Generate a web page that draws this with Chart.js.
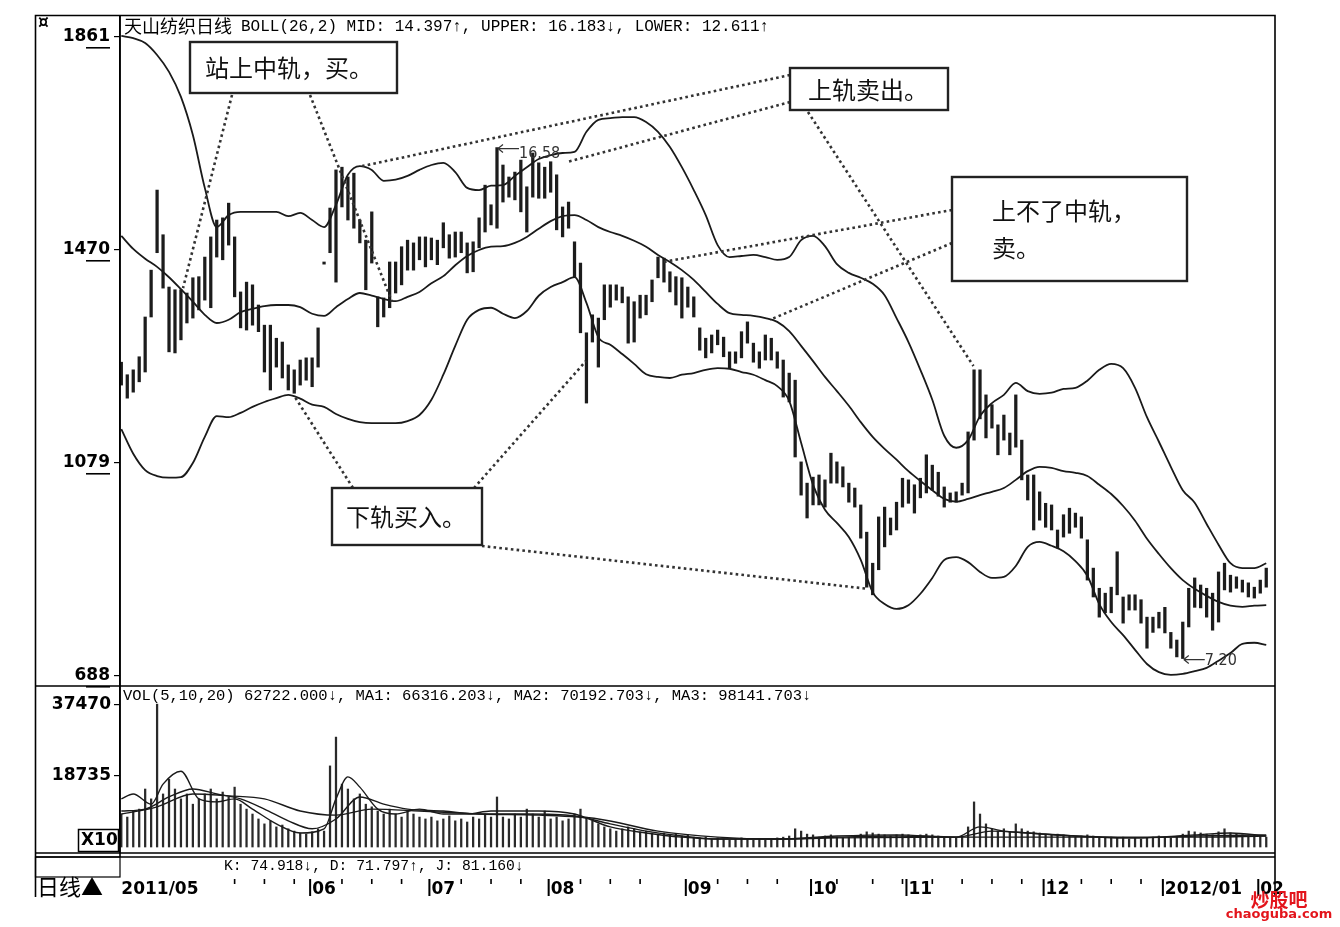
<!DOCTYPE html>
<html lang="zh">
<head>
<meta charset="utf-8">
<title>天山纺织日线 BOLL</title>
<script src="https://cdn.jsdelivr.net/npm/chart.js@4.4.1/dist/chart.umd.min.js"></script>
<style>
html,body{margin:0;padding:0;background:#fff;overflow:hidden}
#box{position:relative;width:1340px;height:927px}
canvas{display:block}
</style>
</head>
<body>
<div id="box"><canvas id="c" width="1340" height="927"></canvas></div>
<script>
// ---------------- DATA (price x100, as shown on the axis) ----------------
const candleHigh = [
1264,1241,1250,1274,1347,1433,1580,1498,1402,1397,1397,1391,1419,1421,1457,1494,1525,1529,1556,1494,1393,1411,1406,1369,1332,1332,1308,1301,1259,1250,1268,1272,
1272,1327,1448,1547,1617,1622,1604,1611,1525,1488,1540,1384,1382,1448,1448,1476,1488,1483,1494,1494,1492,1488,1520,1498,1503,1503,1483,1485,1529,1589,1553,1658,
1626,1604,1613,1635,1586,1648,1630,1622,1632,1608,1549,1558,1485,1446,1318,1351,1345,1406,1406,1406,1402,1384,1375,1387,1387,1415,1457,1455,1430,1421,1419,1402,
1384,1327,1308,1314,1323,1310,1283,1283,1320,1338,1299,1283,1314,1308,1283,1268,1244,1231,1081,1042,1053,1057,1048,1097,1081,1072,1042,1033,1002,952,895,980,
998,978,1007,1051,1048,1039,1051,1094,1075,1062,1035,1024,1026,1042,1136,1250,1250,1204,1186,1149,1167,1134,1204,1121,1057,1057,1026,1005,1002,956,984,996,
987,980,938,886,849,840,851,916,833,837,837,828,796,796,805,814,768,754,787,849,868,855,849,840,879,895,873,870,864,859,851,864,886];
const candleLow = [
1222,1198,1209,1228,1246,1347,1465,1400,1283,1281,1305,1336,1345,1360,1378,1364,1457,1452,1479,1384,1327,1323,1332,1320,1246,1213,1255,1235,1213,1207,1222,1231,
1219,1255,1444,1465,1411,1549,1525,1510,1483,1397,1446,1329,1347,1364,1391,1406,1433,1433,1452,1439,1452,1443,1474,1455,1457,1465,1428,1430,1474,1503,1516,1510,
1558,1567,1562,1540,1503,1567,1565,1565,1576,1507,1494,1510,1421,1318,1189,1301,1255,1342,1365,1378,1373,1299,1301,1345,1351,1375,1419,1411,1393,1369,1345,1365,
1347,1286,1272,1281,1296,1274,1253,1262,1272,1299,1264,1253,1268,1268,1253,1200,1191,1090,1020,978,1002,1002,998,1042,1042,1035,1007,998,941,851,837,883,
925,947,956,998,1005,987,1015,1024,1029,1018,998,1007,1007,1020,1024,1121,1160,1125,1143,1094,1121,1094,1108,1048,1011,956,974,961,956,923,943,950,
961,941,864,833,796,804,804,837,785,809,809,785,739,768,776,767,739,723,720,778,814,813,796,772,787,846,842,849,842,833,831,840,851];
const volume = [
8700,7900,9500,10000,15300,12700,37700,14000,17900,15300,12700,14000,11300,
12700,14000,15300,12700,14500,13200,15800,11300,10000,8700,7400,6100,6900,
5300,5800,4800,4200,3700,3400,4000,4800,4200,21400,29000,16600,15300,12700,14000,11300,10600,
9500,8700,10000,8700,7900,9500,8700,7900,7400,7900,6900,7400,8200,6900,7400,6600,7900,7400,
8700,7900,13200,7900,7400,8700,7900,10000,8700,7900,9500,7400,7900,6900,7400,
8700,10000,7900,6900,6100,5300,4800,4200,4800,5300,4800,4000,4200,3700,3400,3700,3200,3400,2900,3200,
2600,2400,2600,2100,2400,2100,1800,2100,2400,2100,1800,2100,1800,2100,2400,2600,2900,4800,
4200,3400,3200,2600,2900,3200,2600,2400,2600,2900,3400,4000,3700,3400,
3200,2900,3200,3400,3200,2900,3200,3400,3200,2900,2600,2600,2400,2600,
5300,11900,8700,6100,4800,4200,4800,4000,6100,
4800,4200,4000,3700,3400,3200,3400,3200,2900,2600,2900,3200,2900,2600,2400,
2600,2400,2600,2100,2400,2100,2400,2600,2900,2600,2400,2600,3400,4200,4000,
3700,3400,3200,4000,4800,3700,3400,3200,2900,3200,2900,2600];

// Bollinger bands, read every second candle
const bandIdx = [0,2,4,6,8,10,12,14,16,18,20,22,24,26,28,30,32,34,36,38,40,42,44,46,48,50,52,54,56,58,60,62,64,66,68,70,72,74,76,78,80,82,84,86,88,90,92,94,96,98,100,102,104,106,108,110,112,114,116,118,120,122,124,126,128,130,132,134,136,138,140,142,144,146,148,150,152,154,156,158,160,162,164,166,168,170,172,174,176,178,180,182,184,186,188,190,192];
const upperBand = [1863,1859,1850,1828,1797,1751,1681,1584,1512,1534,1540,1540,1540,1540,1532,1538,1525,1512,1553,1608,1624,1617,1597,1599,1606,1617,1626,1630,1613,1584,1580,1588,1589,1606,1622,1637,1644,1648,1650,1687,1709,1712,1714,1714,1705,1687,1659,1622,1580,1534,1479,1457,1459,1461,1457,1452,1457,1488,1496,1477,1444,1428,1419,1408,1387,1345,1301,1250,1195,1129,1107,1121,1165,1189,1204,1226,1211,1206,1208,1215,1217,1230,1250,1261,1253,1217,1163,1118,1072,1029,1006,967,929,895,886,886,895];
const midBand = [1496,1472,1454,1439,1420,1398,1375,1351,1336,1342,1356,1362,1367,1369,1369,1365,1353,1349,1365,1380,1391,1386,1380,1376,1384,1393,1409,1422,1442,1459,1470,1476,1477,1483,1494,1509,1523,1532,1534,1525,1512,1503,1496,1487,1476,1461,1448,1433,1415,1393,1371,1354,1351,1349,1345,1338,1321,1294,1266,1237,1211,1184,1154,1127,1105,1085,1064,1046,1029,1013,1008,1013,1020,1026,1033,1048,1064,1072,1070,1064,1061,1055,1039,1022,1000,973,940,912,886,864,848,835,824,817,815,817,818];
const lowerBand = [1141,1096,1066,1055,1052,1053,1079,1127,1165,1163,1171,1182,1191,1198,1204,1197,1186,1182,1169,1160,1154,1152,1152,1152,1156,1167,1195,1241,1294,1342,1360,1364,1353,1345,1358,1386,1402,1411,1420,1373,1310,1296,1279,1261,1242,1237,1235,1241,1244,1250,1253,1252,1246,1241,1231,1220,1193,1116,1039,993,969,943,901,842,820,811,818,839,868,901,906,897,879,868,870,890,925,934,927,917,899,872,820,787,763,736,710,695,690,692,697,703,716,730,747,749,745];

// Volume moving averages
const ma5Idx = [0,2,5,7,10,13,16,19,22,26,30,34,36,38,40,43,46,50,54,58,62,66,70,76,82,88,94,100,110,120,130,140,144,148,152,160,170,180,186,192];
const ma5Vol = [12700,14000,11300,16600,20000,12700,11900,12700,10000,6100,3700,4800,12700,18500,15800,10000,8700,10000,8700,8700,9500,9500,9500,8700,5300,3700,2600,2100,2100,2900,3200,2600,5300,4200,3700,2900,2400,3200,3700,2900];
const ma10Idx = [0,4,8,12,16,20,24,28,32,36,40,44,48,54,60,68,76,82,88,94,100,110,120,130,140,146,152,160,170,180,192];
const ma10Vol = [9500,10000,13200,15300,14000,12700,10000,6900,4800,7400,13200,11300,10000,9500,8700,8700,8200,6100,4200,2900,2100,2100,2600,2900,2600,4200,3700,2900,2400,2900,3200];
const ma20Idx = [0,6,12,18,24,30,36,42,50,60,70,80,90,100,110,120,140,160,180,192];
const ma20Vol = [8700,10600,14000,13500,12700,9500,8400,10000,9500,8700,8400,7400,4200,2600,2100,2400,2600,2600,2600,2900];

// Axis ticks
const priceTicks = [688, 1079, 1470, 1861];
const volTicks = [18735, 37470];
const monthIdx = [0, 32, 52, 72, 95, 116, 132, 155, 175, 191];
const monthLabels = ['2011/05', '06', '07', '08', '09', '10', '11', '12', '2012/01', '02'];
const weekIdx = [19, 24, 29, 37, 42, 47, 57, 62, 67, 77, 82, 87, 100, 105, 110, 120, 126, 131, 136, 141, 146, 151, 156, 161, 166, 171, 187];

// Extremes marked on the chart
const highMark = {i: 63, v: 1658, label: '16.58'};
const lowMark = {i: 178, v: 720, label: '7.20'};

// Callouts: target points in data space [candle index, price]
const callouts = [
  {text: ['站上中轨，买。'], box: [190, 42, 397, 93], tx: 205, ty: [68],
   from: [[232, 95], [310, 95]], to: [[10.35, 1400], [45.4, 1375]]},
  {text: ['上轨卖出。'], box: [790, 68, 948, 110], tx: 808, ty: [90],
   from: [[790, 75], [790, 102], [808, 112]], to: [[40.4, 1624], [74.9, 1632], [142.9, 1257]]},
  {text: ['上不了中轨，', '卖。'], box: [952, 177, 1187, 281], tx: 992, ty: [211, 248],
   from: [[952, 210], [952, 243]], to: [[90.9, 1448], [108.8, 1342]]},
  {text: ['下轨买入。'], box: [332, 488, 482, 545], tx: 346, ty: [517],
   from: [[353, 488], [474, 488], [482, 546]], to: [[29.0, 1202], [77.9, 1266], [125.2, 848]]}
];

// ---------------- CHART ----------------
const CJK = '"Noto Sans CJK SC", sans-serif';
const MONO = '"Liberation Mono", "DejaVu Sans Mono", monospace';

const candleData = candleHigh.map((h, i) => ({x: i, y: [candleLow[i], h]}));
const volData = volume.map((v, i) => ({x: i, y: v}));
const pts = (idx, vals) => idx.map((x, k) => ({x, y: vals[k]}));

const lineDs = (label, data, axis, w) => ({
  type: 'line', label, data, yAxisID: axis, borderColor: '#1a1a1a', borderWidth: w,
  pointRadius: 0, fill: false, cubicInterpolationMode: 'monotone', order: 1
});

const deco = {
  id: 'deco',
  beforeDraw(chart) {
    const c = chart.ctx;
    c.save(); c.fillStyle = '#fff'; c.fillRect(0, 0, chart.width, chart.height); c.restore();
  },
  afterDraw(chart) {
    const c = chart.ctx, xs = chart.scales.x, ys = chart.scales.y;
    const A = chart.chartArea;
    const L = 35.5, R = 1275, T = 15.5, B = 897;
    c.save();
    c.strokeStyle = '#000'; c.lineWidth = 1.6;
    c.beginPath();
    c.moveTo(L, B); c.lineTo(L, T); c.lineTo(R, T); c.lineTo(R, B);
    c.moveTo(L, ys.bottom); c.lineTo(R, ys.bottom);
    c.moveTo(L, A.bottom); c.lineTo(R, A.bottom);
    c.moveTo(L, A.bottom + 4); c.lineTo(R, A.bottom + 4);
    c.moveTo(A.left, T); c.lineTo(A.left, A.bottom + 4);
    c.stroke();
    c.lineWidth = 1.2;
    c.strokeRect(L, A.bottom + 4, A.left - L, 20);

    c.fillStyle = '#000';
    priceTicks.forEach(v => { const y = ys.getPixelForValue(v); c.fillRect(86, y + 10, 24, 1.6); });

    c.textBaseline = 'middle'; c.textAlign = 'left'; c.fillStyle = '#000';
    c.font = '18px ' + CJK; c.fillText('天山纺织日线', 124, 26);
    c.font = '16px ' + MONO; c.fillText('BOLL(26,2) MID: 14.397↑, UPPER: 16.183↓, LOWER: 12.611↑', 241, 27);
    c.font = '15.5px ' + MONO;
    c.fillText('VOL(5,10,20) 62722.000↓, MA1: 66316.203↓, MA2: 70192.703↓, MA3: 98141.703↓', 123, 696);
    c.font = '14.7px ' + MONO;
    c.fillText('K: 74.918↓, D: 71.797↑, J: 81.160↓', 224, 866);
    c.font = 'bold 17px "DejaVu Sans", sans-serif'; c.fillText('¤', 38, 24);
    c.font = '22px ' + CJK; c.fillText('日线▲', 37, 887);

    c.lineWidth = 1.5; c.strokeRect(78.5, 829.5, 40, 22);
    c.font = 'bold 17px "DejaVu Sans", sans-serif'; c.fillText('X10', 81, 841);

    monthIdx.forEach((m, k) => { if (k > 0) { const x = xs.getPixelForValue(m) - 2; c.fillRect(x - 1, 879, 2, 17); } });
    weekIdx.forEach(w => { const x = xs.getPixelForValue(w); c.fillRect(x - 0.8, 879, 1.6, 5); });

    const mark = (m, dy) => {
      const x = xs.getPixelForValue(m.i), y = ys.getPixelForValue(m.v);
      c.strokeStyle = '#333'; c.lineWidth = 1.2; c.beginPath();
      c.moveTo(x + 1, y + 1); c.lineTo(x + 22, y + 1);
      c.moveTo(x + 1, y + 1); c.lineTo(x + 6, y - 3);
      c.moveTo(x + 1, y + 1); c.lineTo(x + 6, y + 5);
      c.stroke();
      c.fillStyle = '#333'; c.font = '16px "DejaVu Sans Condensed", sans-serif';
      c.fillText(m.label, x + 22, y + dy);
    };
    mark(highMark, 6); mark(lowMark, 2);

    c.strokeStyle = '#333'; c.lineWidth = 2.6; c.setLineDash([2.6, 3.2]);
    callouts.forEach(n => n.from.forEach((f, k) => {
      const t = n.to[k];
      c.beginPath(); c.moveTo(f[0], f[1]);
      c.lineTo(xs.getPixelForValue(t[0]), ys.getPixelForValue(t[1])); c.stroke();
    }));
    c.setLineDash([]);
    callouts.forEach(n => {
      const [x0, y0, x1, y1] = n.box;
      c.fillStyle = '#fff'; c.fillRect(x0, y0, x1 - x0, y1 - y0);
      c.strokeStyle = '#222'; c.lineWidth = 2.4; c.strokeRect(x0, y0, x1 - x0, y1 - y0);
      c.fillStyle = '#111'; c.font = '24px ' + CJK;
      n.text.forEach((t, k) => c.fillText(t, n.tx, n.ty[k]));
    });

    c.fillStyle = '#e3151c'; c.textAlign = 'center';
    c.font = 'bold 19px ' + CJK; c.fillText('炒股吧', 1279, 900);
    c.font = 'bold 13px "DejaVu Sans", sans-serif'; c.fillText('chaoguba.com', 1279, 915);
    c.restore();
  }
};

Chart.defaults.animation = false;
new Chart(document.getElementById('c'), {
  type: 'bar',
  data: {
    datasets: [
      lineDs('UPPER', pts(bandIdx, upperBand), 'y', 1.8),
      lineDs('MID', pts(bandIdx, midBand), 'y', 1.8),
      lineDs('LOWER', pts(bandIdx, lowerBand), 'y', 1.8),
      {type: 'bar', label: '天山纺织', data: candleData, yAxisID: 'y', backgroundColor: '#1c1c1c',
       barThickness: 2.6, grouped: false, order: 2},
      {type: 'bar', label: 'VOL', data: volData, yAxisID: 'yv', backgroundColor: '#2a2a2a',
       barThickness: 1.6, grouped: false, order: 2},
      lineDs('MA1', pts(ma5Idx, ma5Vol), 'yv', 1.4),
      lineDs('MA2', pts(ma10Idx, ma10Vol), 'yv', 1.4),
      lineDs('MA3', pts(ma20Idx, ma20Vol), 'yv', 1.4)
    ]
  },
  options: {
    responsive: false, animation: false, devicePixelRatio: 1,
    layout: {padding: {left: 35, right: 66, top: 17, bottom: 30}},
    plugins: {legend: {display: false}, tooltip: {enabled: false}, title: {display: false}},
    scales: {
      x: {
        type: 'linear', min: -0.22, max: 193.3, position: 'bottom', offset: false,
        grid: {display: false, drawTicks: false, offset: false}, border: {display: false},
        afterBuildTicks: s => { s.ticks = monthIdx.map(v => ({value: v})); },
        afterFit: s => { s.height = 44; },
        ticks: {autoSkip: false, maxRotation: 0, minRotation: 0, align: 'start', padding: 26,
          color: '#000', font: {family: '"DejaVu Sans", sans-serif', weight: 'bold', size: 17},
          callback: (v, i) => monthLabels[i]}
      },
      y: {
        type: 'linear', position: 'left', stack: 'panes', stackWeight: 669, weight: 2,
        min: 669.6, max: 1897.7,
        afterBuildTicks: s => { s.ticks = priceTicks.map(v => ({value: v})); },
        afterFit: s => { s.width = 85; },
        grid: {drawOnChartArea: false, drawTicks: true, tickLength: 6, color: '#000', lineWidth: 1.2},
        border: {display: true, color: '#000', width: 1.6},
        ticks: {padding: 4, color: '#000', font: {family: '"DejaVu Sans", sans-serif', weight: 'bold', size: 17},
          callback: v => String(v)}
      },
      yv: {
        type: 'linear', position: 'left', stack: 'panes', stackWeight: 167, weight: 1,
        min: -1583, max: 42484,
        afterBuildTicks: s => { s.ticks = volTicks.map(v => ({value: v})); },
        afterFit: s => { s.width = 85; },
        grid: {drawOnChartArea: false, drawTicks: true, tickLength: 6, color: '#000', lineWidth: 1.2},
        border: {display: true, color: '#000', width: 1.6},
        ticks: {padding: 3, color: '#000', font: {family: '"DejaVu Sans", sans-serif', weight: 'bold', size: 17},
          callback: v => String(v)}
      }
    }
  },
  plugins: [deco]
});
</script>
</body>
</html>
